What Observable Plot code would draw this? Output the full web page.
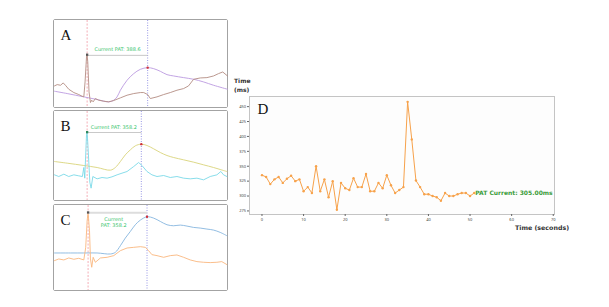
<!DOCTYPE html>
<html><head><meta charset="utf-8">
<script src="https://cdn.jsdelivr.net/npm/d3@7"></script>
<script src="https://cdn.jsdelivr.net/npm/@observablehq/plot@0.6"></script>
<style>
body{margin:0;width:609px;height:307px;position:relative;background:#fff;overflow:hidden;font-family:"DejaVu Sans",sans-serif}
.abs{position:absolute}
.pan{position:absolute;border:1.5px solid #a3a3a3;border-radius:2px;background:#fff;line-height:0}
.lbl{position:absolute;font-weight:bold;color:#333;font-family:"DejaVu Sans",sans-serif}
</style></head>
<body>
<div id="pA" class="pan" style="left:53px;top:19px"></div>
<div id="pB" class="pan" style="left:53px;top:110px"></div>
<div id="pC" class="pan" style="left:53px;top:204px"></div>
<div id="pD" class="abs" style="left:228px;top:70px"></div>
<div class="lbl" style="left:234px;top:76px;font-size:6px;line-height:9px">Time<br>(ms)</div>
<div class="lbl" style="left:515px;top:224px;font-size:6.3px">Time (seconds)</div>
<script>
// ---------- Panel A (time ms, amplitude arbitrary units) ----------
const aEcgT = [0,17,38,55,69,90,122,153,174,185,193,202,206,210,218,227,235,244,258,279,311,342,374,416,458,500,542,563,588,605,647,689,731,773,815,846,878,920,962,1004,1035,1062,1092];
const aEcgV = [88,92,90,97,90,78,68,62,57,55,100,175,182,160,70,38,45,40,50,45,42,40,44,52,60,65,68,68,62,50,55,62,68,75,80,88,108,112,113,118,125,130,118];
const aPpgT = [0,80,185,269,342,374,395,416,458,500,542,588,626,668,710,752,815,878,941,1004,1092];
const aPpgV = [72,65,55,47,40,45,55,75,105,125,138,143,140,132,122,118,113,108,100,90,78];
// ---------- Panel B ----------
const bEcgT = [0,27,59,90,122,153,176,185,191,202,206,212,223,231,242,269,300,332,363,395,426,458,500,531,552,584,615,647,689,731,773,815,857,899,941,983,1025,1050,1067,1088];
const bEcgV = [100,95,102,95,100,97,95,122,90,220,228,180,78,60,95,88,92,90,94,100,105,110,125,137,128,110,100,95,98,92,95,90,88,90,85,95,100,110,100,95];
const bPpgT = [0,80,185,269,353,384,416,447,479,510,548,584,626,668,710,752,815,878,941,1004,1046,1088];
const bPpgV = [140,135,128,122,114,122,140,160,175,187,192,188,178,167,158,152,145,138,130,122,116,110];
// ---------- Panel C ----------
const cEcgT = [0,27,59,90,122,153,185,197,206,212,221,227,235,244,258,290,332,374,416,458,500,542,573,594,615,647,689,731,773,815,857,899,941,983,1025,1056,1088];
const cEcgV = [120,125,122,128,124,127,122,160,240,265,210,125,100,130,115,128,130,135,150,158,160,162,160,150,138,135,130,135,137,130,122,117,115,114,115,117,108];
const cPpgT = [0,101,185,269,353,384,416,447,479,510,542,584,626,668,710,752,794,836,878,920,962,1004,1046,1088];
const cPpgV = [143,143,143,143,140,145,165,188,208,228,242,252,248,238,228,225,227,224,220,218,215,212,205,195];
// ---------- annotations ----------
const letters = ["A","B","C"];
const patValues = [388.6, 358.2, 358.2];
const rPeakT = [206, 206, 212];
const rPeakV = [182, 228, 265];
const ppgPeakT = [588, 548, 584];
const ppgPeakV = [143, 192, 252];
const arrowV = [180, 227, 264];
// ---------- Panel D ----------
const dTime = [0,1,2,3,4,5,6,7,8,9,10,11,12,13,14,15,16,17,18,19,20,21,22,23,24,25,26,27,28,29,30,31,32,33,34,35,36,37,38,39,40,41,42,43,44,45,46,47,48,49,50,51];
const dPat = [335,332,320,328,332,322,329,334,325,328,308,315,305,350,308,328,298,325,277,322,313,310,330,315,315,337,308,308,322,313,335,318,305,310,315,458,395,326,315,303,303,300,298,292,305,300,300,303,305,305,300,305];
const dXTicks = [0,10,20,30,40,50,60,70];
const dYTicks = [275,300,325,350,375,400,425,450];

const PW = 173;
const panels = [
  {id:"pA", h:87, yDom:[23,285], ecgT:aEcgT, ecgV:aEcgV, ppgT:aPpgT, ppgV:aPpgV, ecgC:"#b38c82", ppgC:"#bb9ae0", rC:"#555", arrowW:0.8, arrowC:"#bbb", lines:[`Current PAT: ${patValues[0]}`], lineV:[198], labT:398},
  {id:"pB", h:89, yDom:[23,290], ecgT:bEcgT, ecgV:bEcgV, ppgT:bPpgT, ppgV:bPpgV, ecgC:"#7ad9e8", ppgC:"#d9d47a", rC:"#2f8a5e", arrowW:0.8, arrowC:"#bbb", lines:[`Current PAT: ${patValues[1]}`], lineV:[243], labT:374},
  {id:"pC", h:85, yDom:[30,286], ecgT:cEcgT, ecgV:cEcgV, ppgT:cPpgT, ppgV:cPpgV, ecgC:"#f9b77e", ppgC:"#86b5df", rC:"#555", arrowW:2, arrowC:"#ddd", lines:["Current", `PAT: ${patValues[2]}`], lineV:[245,227], labT:374}
];

panels.forEach((p, i) => {
  const ecg = p.ecgT.map((t, k) => ({t, v: p.ecgV[k]}));
  const ppg = p.ppgT.map((t, k) => ({t, v: p.ppgV[k]}));
  const arrow = [{x1: rPeakT[i], x2: ppgPeakT[i], y: arrowV[i]}];
  const texts = p.lines.map((s, k) => ({s, v: p.lineV[k], t: p.labT}));
  const svg = Plot.plot({
    width: PW, height: p.h, margin: 0,
    style: {background: "#fff", overflow: "visible"},
    x: {domain: [0, 1092], axis: null},
    y: {domain: p.yDom, axis: null},
    marks: [
      Plot.ruleX([rPeakT[i]], {stroke: "#f29aa6", strokeWidth: 0.8, strokeDasharray: "2,1.5"}),
      Plot.ruleX([ppgPeakT[i]], {stroke: "#7f7fe0", strokeWidth: 0.8, strokeDasharray: "1,1.5"}),
      Plot.line(ppg, {x: "t", y: "v", stroke: p.ppgC, strokeWidth: 0.9, curve: "catmull-rom"}),
      Plot.line(ecg, {x: "t", y: "v", stroke: p.ecgC, strokeWidth: 0.9}),
      Plot.link(arrow, {x1: "x1", x2: "x2", y1: "y", y2: "y", stroke: p.arrowC, strokeWidth: p.arrowW}),
      Plot.dot([{t: rPeakT[i], v: rPeakV[i]}], {x: "t", y: "v", symbol: "square", r: 1.3, fill: p.rC}),
      Plot.dot([{t: ppgPeakT[i], v: ppgPeakV[i]}], {x: "t", y: "v", r: 1.2, fill: "#d0303a"}),
      Plot.text(texts, {x: "t", y: "v", text: "s", fill: "#33c46a", fontSize: 5, fontFamily: "DejaVu Sans"}),
      Plot.text([letters[i]], {frameAnchor: "top-left", dx: 6, dy: 9, lineAnchor: "top", fontSize: 15, fontFamily: "Liberation Serif", fill: "#111"})
    ]
  });
  document.getElementById(p.id).appendChild(svg);
});

// Panel D
const dData = dTime.map((t, k) => ({t, pat: dPat[k]}));
const last = dData[dData.length - 1];
const svgD = Plot.plot({
  width: 335, height: 165,
  marginLeft: 21, marginTop: 26, marginRight: 9, marginBottom: 21,
  style: {background: "transparent", overflow: "visible"},
  x: {domain: [-3, 70.3]},
  y: {domain: [269, 467]},
  marks: [
    Plot.frame({fill: "#fdfdfd", stroke: "#c4c4c4", strokeWidth: 1}),
    Plot.axisY({ticks: dYTicks, tickSize: 2, tickPadding: 1.5, fontSize: 4, label: null, stroke: "#666", color: "#444"}),
    Plot.axisX({ticks: dXTicks, tickSize: 2, tickPadding: 1.5, fontSize: 4, label: null, stroke: "#666", color: "#444"}),
    Plot.line(dData, {x: "t", y: "pat", stroke: "#f7a24b", strokeWidth: 1}),
    Plot.dot(dData, {x: "t", y: "pat", r: 1.2, fill: "#f7a24b"}),
    Plot.text([last], {x: "t", y: "pat", text: d => `PAT Current: ${d.pat.toFixed(2)}ms`, textAnchor: "start", dx: 1, fill: "#3a9c3a", fontWeight: "bold", fontSize: 6, fontFamily: "DejaVu Sans"}),
    Plot.text(["D"], {frameAnchor: "top-left", dx: 8, dy: 7, lineAnchor: "top", fontSize: 15, fontFamily: "Liberation Serif", fill: "#111"})
  ]
});
document.getElementById("pD").appendChild(svgD);
</script>
</body></html>
